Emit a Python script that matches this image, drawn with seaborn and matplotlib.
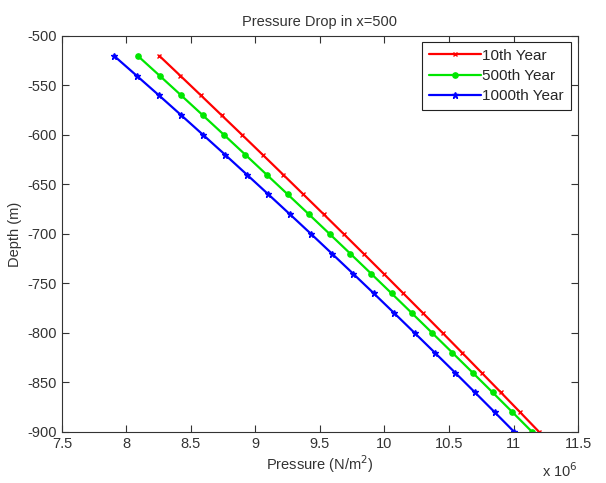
"""
Pressure drop vs depth at x=500 for three time steps
"""

import numpy as np
import pandas as pd
import seaborn as sns
import matplotlib.pyplot as plt

# data (depth in m, pressure in units of 1e6 N/m^2)
depth = [-520, -540, -560, -580, -600, -620, -640, -660, -680, -700,
         -720, -740, -760, -780, -800, -820, -840, -860, -880, -900]

p_10th = [8.254, 8.416, 8.577, 8.737, 8.897, 9.056, 9.214, 9.371, 9.528, 9.684,
          9.839, 9.993, 10.146, 10.299, 10.451, 10.602, 10.752, 10.902, 11.051, 11.199]
p_500th = [8.087, 8.256, 8.424, 8.591, 8.757, 8.922, 9.086, 9.250, 9.413, 9.575,
           9.736, 9.896, 10.055, 10.213, 10.370, 10.527, 10.683, 10.838, 10.992, 11.145]
p_1000th = [7.903, 8.078, 8.252, 8.424, 8.595, 8.765, 8.933, 9.100, 9.266, 9.431,
            9.594, 9.756, 9.917, 10.076, 10.234, 10.391, 10.547, 10.701, 10.854, 11.006]

labels = ['10th Year', '500th Year', '1000th Year']
colors = ['#ff0000', '#00e600', '#0000ff']
markers = ['x', 'o', '*']
msizes = [3, 3.8, 4.5]

xticklabels = ['7.5', '8', '8.5', '9', '9.5', '10', '10.5', '11', '11.5']

sns.set_style('ticks')
plt.rcParams['font.family'] = ['Liberation Sans', 'DejaVu Sans']
plt.rcParams['font.size'] = 10.5
plt.rcParams['axes.unicode_minus'] = False

fig = plt.figure(figsize=(6.06, 4.83), dpi=100)
ax = fig.add_axes([0.1023, 0.1056, 0.8515, 0.8199])

for p, lab, c, m, ms in zip([p_10th, p_500th, p_1000th], labels, colors, markers, msizes):
    df = pd.DataFrame({'Pressure': p, 'Depth': depth})
    sns.lineplot(data=df, x='Pressure', y='Depth', color=c, marker=m, markersize=ms,
                 markeredgewidth=1.0, markeredgecolor=c, sort=False, linewidth=1.6,
                 label=lab, ax=ax)

ax.set_xlim(7.5, 11.5)
ax.set_ylim(-900, -500)
ax.set_xticks(np.arange(7.5, 11.51, 0.5))
ax.set_xticklabels(xticklabels)
ax.set_yticks(np.arange(-900, -499, 50))
ax.text(1.0, -0.075, r'x 10$^6$', transform=ax.transAxes, ha='right', va='top',
        fontsize=10.5, color='#333333')

ax.tick_params(direction='in', length=5, top=True, right=True, colors='#333333',
               labelcolor='#333333', labelsize=10.5, width=0.8)
for s in ax.spines.values():
    s.set_color('#333333')
    s.set_linewidth(0.8)

ax.set_title('Pressure Drop in x=500', fontsize=10.5, color='#333333', pad=7)
ax.set_xlabel('Pressure (N/m$^2$)', fontsize=10.5, color='#333333', labelpad=2)
ax.set_ylabel('Depth (m)', fontsize=10.5, color='#333333', labelpad=4)

leg = ax.legend(loc='upper right', bbox_to_anchor=(0.986, 0.985), borderaxespad=0,
                handlelength=3.4, fancybox=False, framealpha=1, fontsize=11,
                labelspacing=0.4, handletextpad=0.1, borderpad=0.45)
leg.get_frame().set_edgecolor('#222222')
leg.get_frame().set_linewidth(0.8)

fig.savefig('out.png', dpi=100, facecolor='white')
